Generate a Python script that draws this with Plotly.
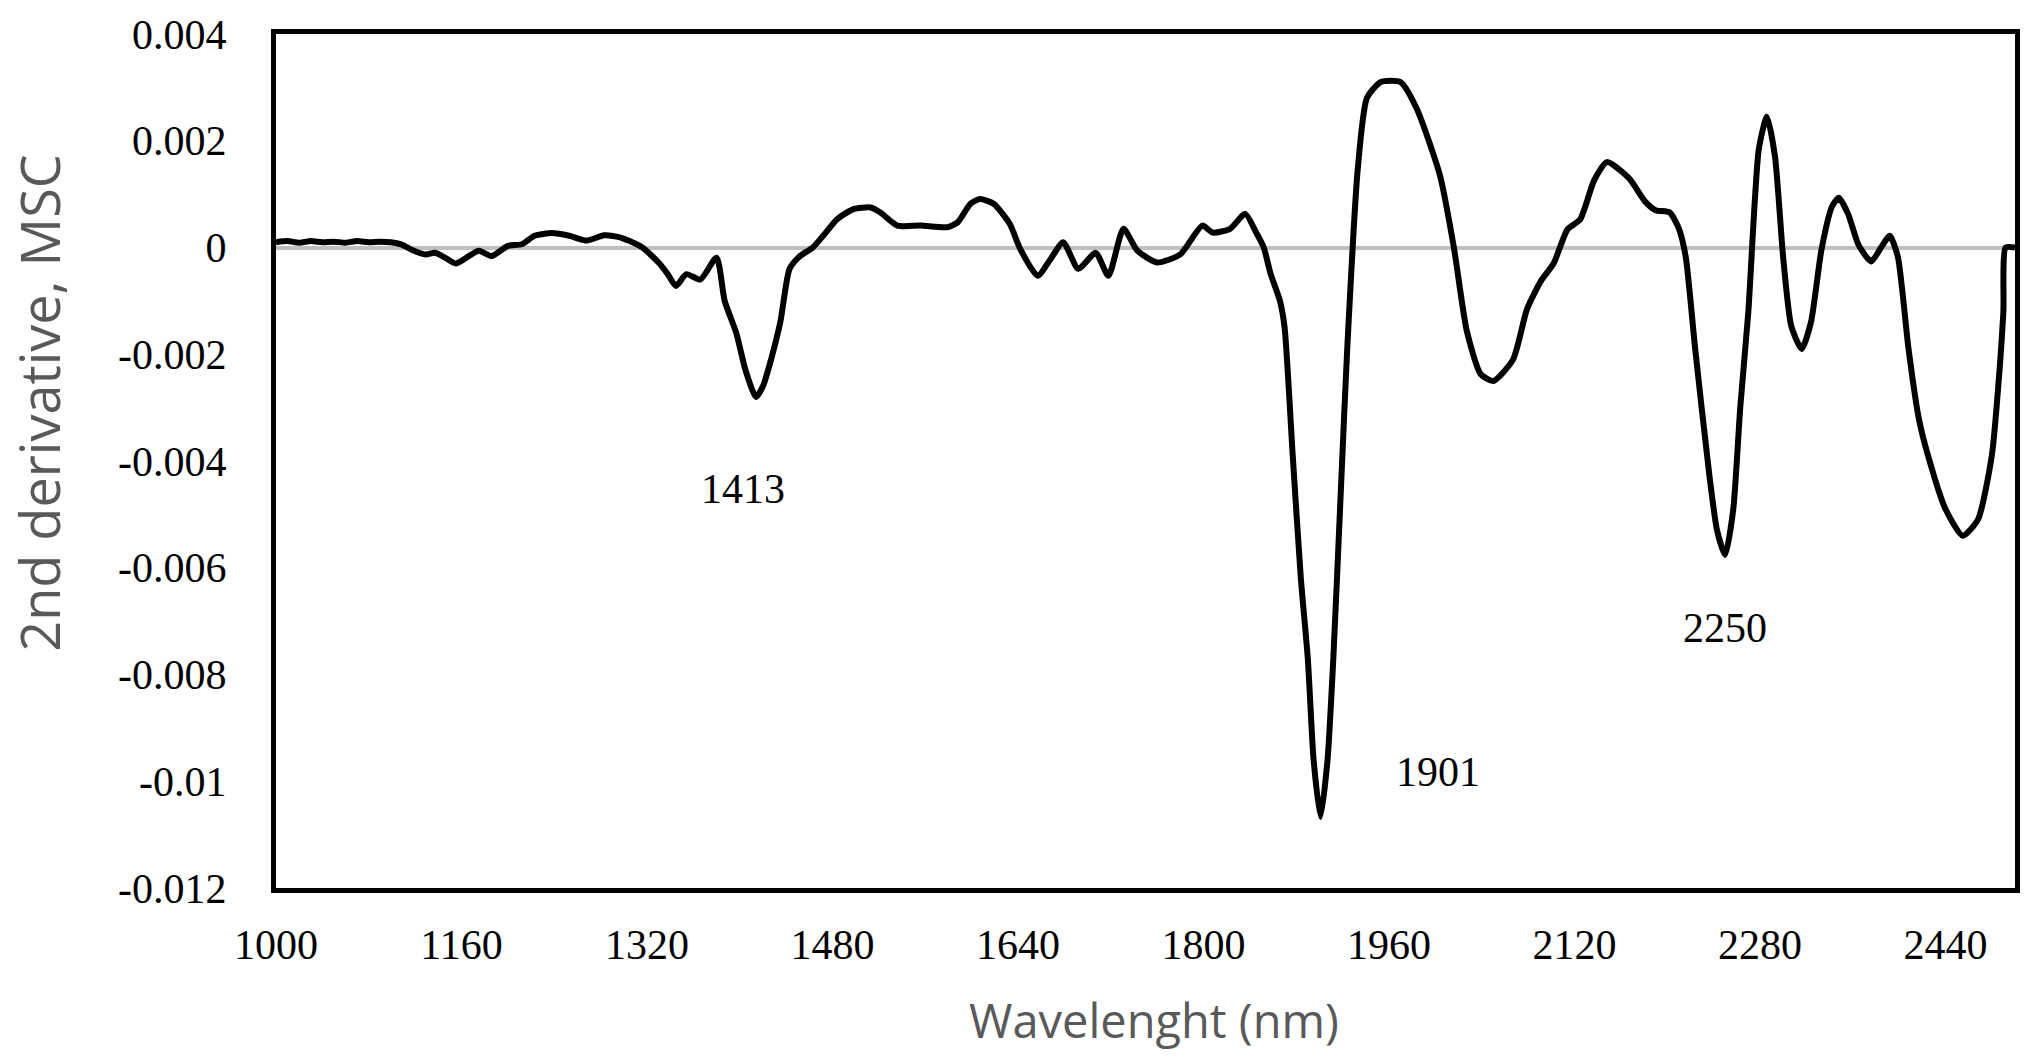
import plotly.graph_objects as go

# 2nd derivative spectrum (MSC)
wavelength = [1000, 1010, 1020, 1030, 1040, 1050, 1060, 1070, 1080, 1090, 1099,
              1108, 1118, 1129, 1137, 1145, 1155, 1165, 1175, 1186, 1200, 1212,
              1223, 1238, 1253, 1268, 1283, 1295, 1305, 1316, 1330, 1338, 1345,
              1354, 1366, 1380, 1387, 1397, 1405, 1414, 1420, 1427, 1435, 1443,
              1452, 1463, 1472, 1484, 1498, 1513, 1521, 1536, 1556, 1579, 1588,
              1599, 1607, 1619, 1633, 1642, 1657, 1668, 1679, 1692, 1707, 1718,
              1731, 1743, 1760, 1780, 1799, 1808, 1823, 1836, 1845, 1852, 1858,
              1866, 1870, 1877, 1884, 1890, 1895, 1901, 1907, 1912, 1918, 1924,
              1933, 1941, 1953, 1970, 1984, 2004, 2016, 2027, 2039, 2050, 2067,
              2079, 2091, 2102, 2114, 2125, 2137, 2148, 2167, 2181, 2190, 2202,
              2210, 2216, 2224, 2236, 2243, 2250, 2257, 2263, 2270, 2279, 2286,
              2293, 2300, 2307, 2316, 2324, 2333, 2342, 2348, 2356, 2365, 2376,
              2385, 2392, 2399, 2408, 2417, 2425, 2440, 2455, 2468, 2480, 2487,
              2490, 2492, 2500]
second_deriv = [0.00010, 0.00012, 0.00009, 0.00012, 0.00010, 0.00011, 0.00009, 0.00012,
                0.00010, 0.00011, 0.00010, 0.00006, -0.00005, -0.00013, -0.00010,
                -0.00018, -0.00030, -0.00018, -0.00006, -0.00016, 0.00003, 0.00006,
                0.00022, 0.00027, 0.00022, 0.00013, 0.00023, 0.00020, 0.00012, 0.00000,
                -0.00028, -0.00050, -0.00072, -0.00050, -0.00060, -0.00019, -0.00100,
                -0.00160, -0.00230, -0.00280, -0.00260, -0.00210, -0.00140, -0.00040,
                -0.00016, 0.00000, 0.00022, 0.00053, 0.00072, 0.00075, 0.00066, 0.00041,
                0.00041, 0.00038, 0.00047, 0.00082, 0.00091, 0.00082, 0.00044, -0.00003,
                -0.00053, -0.00022, 0.00010, -0.00040, -0.00010, -0.00053, 0.00035,
                -0.00006, -0.00028, -0.00013, 0.00041, 0.00028, 0.00035, 0.00063,
                0.00030, 0.00000, -0.00050, -0.00100, -0.00150, -0.00390, -0.00620,
                -0.00770, -0.00960, -0.01067, -0.00960, -0.00770, -0.00480, -0.00190,
                0.00145, 0.00280, 0.00310, 0.00310, 0.00260, 0.00135, 0.00000, -0.00155,
                -0.00237, -0.00250, -0.00210, -0.00116, -0.00063, -0.00030, 0.00034,
                0.00053, 0.00126, 0.00160, 0.00130, 0.00086, 0.00070, 0.00066, 0.00036,
                -0.00018, -0.00187, -0.00420, -0.00530, -0.00576, -0.00490, -0.00300,
                -0.00120, 0.00184, 0.00245, 0.00170, -0.00018, -0.00147, -0.00190,
                -0.00140, -0.00005, 0.00076, 0.00093, 0.00063, 0.00005, -0.00026,
                0.00002, 0.00022, -0.00018, -0.00187, -0.00320, -0.00390, -0.00490,
                -0.00540, -0.00510, -0.00390, -0.00220, -0.00120, 0.00000, 0.00000]

x_ticks = [1000, 1160, 1320, 1480, 1640, 1800, 1960, 2120, 2280, 2440]
y_ticks = [0.004, 0.002, 0, -0.002, -0.004, -0.006, -0.008, -0.01, -0.012]
y_tick_text = ["0.004", "0.002", "0", "-0.002", "-0.004", "-0.006", "-0.008", "-0.01", "-0.012"]

# peak labels: (text, x, y)
peak_labels = [("1413", 1403, -0.00453), ("1901", 2002, -0.00983), ("2250", 2250, -0.00713)]

W, H = 2040, 1057
ML, MR, MT, MB = 276, 25, 31, 169
serif = "Liberation Serif, Times New Roman, serif"
sans = "Open Sans, Calibri, sans-serif"

fig = go.Figure()
fig.add_trace(go.Scatter(x=wavelength, y=second_deriv, mode="lines",
                         line=dict(color="black", width=6, shape="spline", smoothing=0.6),
                         showlegend=False, hoverinfo="skip"))

for txt, px, py in peak_labels:
    fig.add_annotation(x=px, y=py, text=txt, showarrow=False,
                       font=dict(family=serif, size=42, color="black"))

# axis titles as free annotations (y title is not centred on the plot)
fig.add_annotation(xref="paper", yref="paper", x=(1154 - ML) / (W - ML - MR),
                   y=(H - MB - 1020) / (H - MT - MB), xanchor="center", yanchor="middle",
                   text="Wavelenght (nm)", showarrow=False,
                   font=dict(family=sans, size=47, color="#595959"))
fig.add_annotation(xref="paper", yref="paper", x=(39 - ML) / (W - ML - MR),
                   y=(H - MB - 402) / (H - MT - MB), xanchor="center", yanchor="middle",
                   text="2nd derivative, MSC", showarrow=False, textangle=-90,
                   font=dict(family=sans, size=54, color="#595959"))

fig.update_xaxes(range=[1000, 2500], tickvals=x_ticks, ticks="", showgrid=False,
                 zeroline=False, showline=True, linecolor="black", linewidth=5, mirror=True,
                 ticklabelstandoff=16, tickfont=dict(family=serif, size=42, color="black"))
fig.update_yaxes(range=[-0.012, 0.004], tickvals=y_ticks, ticktext=y_tick_text, ticks="",
                 showgrid=False, zeroline=True, zerolinecolor="#BFBFBF", zerolinewidth=4,
                 showline=True, linecolor="black", linewidth=5, mirror=True,
                 ticklabelstandoff=36, tickfont=dict(family=serif, size=42, color="black"))
fig.update_layout(width=W, height=H, margin=dict(l=ML, r=MR, t=MT, b=MB, pad=0),
                  paper_bgcolor="white", plot_bgcolor="white")

fig.write_html("out.html", config={"displayModeBar": False},
               post_script="document.body.style.margin='0';"
                           "document.body.style.overflow='hidden';")
